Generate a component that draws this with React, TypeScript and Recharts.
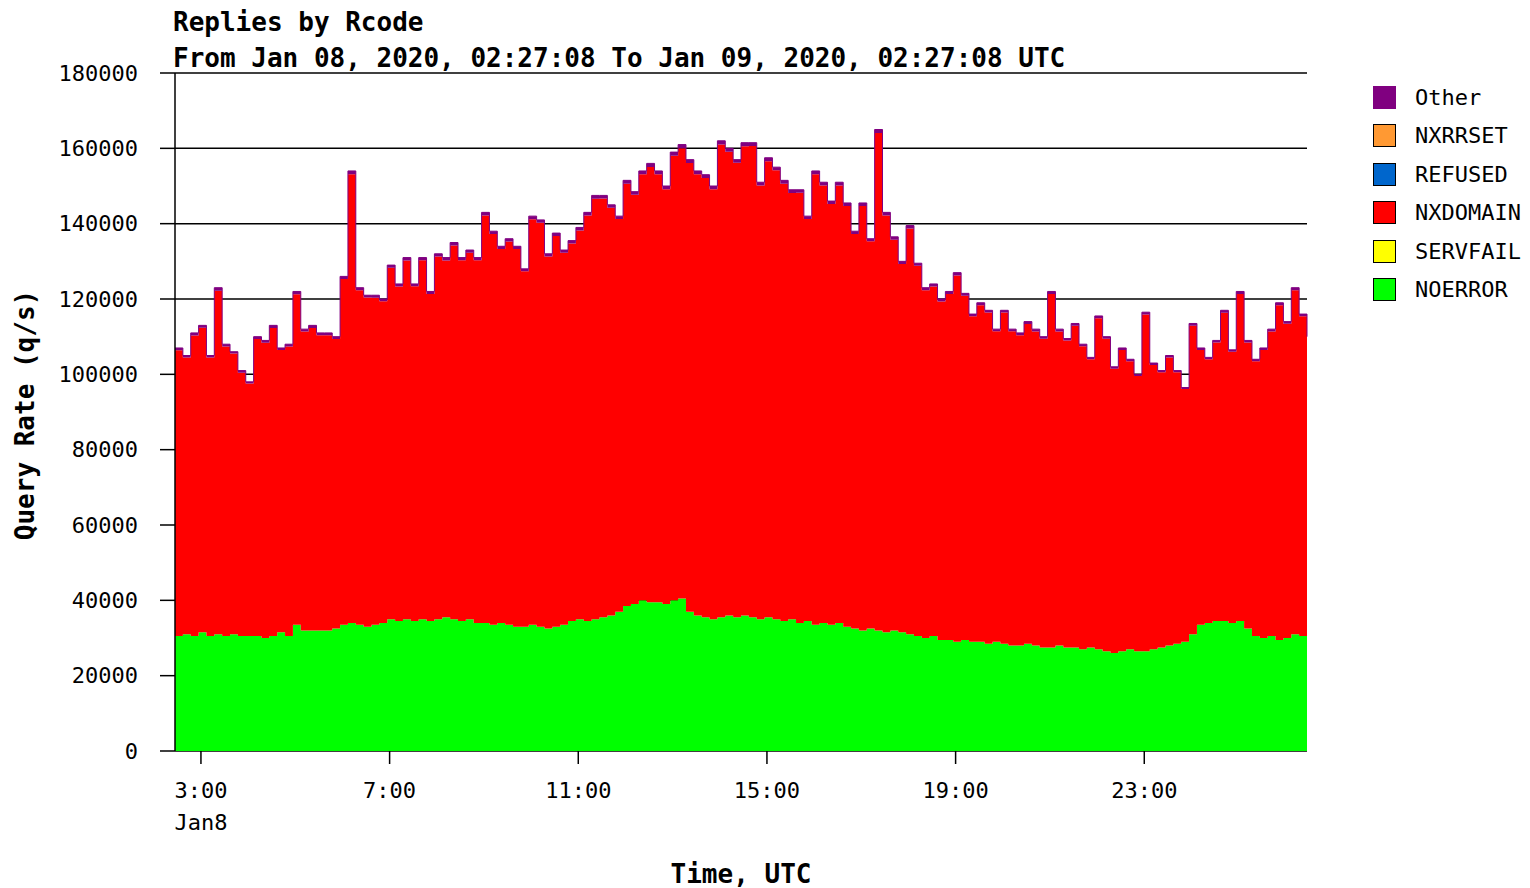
import { AreaChart, Area, XAxis, YAxis, CartesianGrid } from 'recharts'

// samples every 10 minutes starting Jan 08 02:27:08 UTC
const stepMinutes = 10

// top of the stack (all rcodes), thousands of q/s
const totalRate = [
  107, 105, 111, 113, 105, 123, 108, 106, 101, 98,
  110, 109, 113, 107, 108, 122, 112, 113, 111, 111,
  110, 126, 154, 123, 121, 121, 120, 129, 124, 131,
  124, 131, 122, 132, 131, 135, 131, 133, 131, 143,
  138, 134, 136, 134, 128, 142, 141, 132, 137.5, 133,
  135.5, 139, 143, 147.5, 147.5, 145, 142, 151.5, 148.5, 154,
  156, 154, 150, 159, 161, 157, 154, 153, 150, 162,
  160, 157, 161.5, 161.5, 151, 157.5, 155, 151.5, 149, 149,
  142, 154, 151, 146, 151, 145.5, 138, 145.5, 136, 165,
  143, 136.5, 130, 139.5, 129.5, 123, 124, 120, 122, 127,
  121.5, 116, 119, 117, 112, 117, 112, 111, 114, 112,
  110, 122, 112, 109.5, 113.5, 108, 104.5, 115.5, 110, 102,
  107, 104, 100, 116.5, 103, 101, 105, 101, 96.5, 113.5,
  107, 104.5, 109, 117, 106.5, 122, 109, 104, 107, 112,
  119, 114, 123, 116, 110,
]

// NOERROR, thousands of q/s
const noerrorRate = [
  30.5, 31, 30.5, 31.5, 30.5, 31, 30.5, 31, 30.5, 30.5,
  30.5, 30, 30.5, 31.5, 30.5, 33.5, 32, 32, 32, 32,
  32.5, 33.5, 34, 33.5, 33, 33.5, 34, 35, 34.5, 35,
  34.5, 35, 34.5, 35, 35.5, 35, 34.5, 35, 34, 34,
  33.5, 34, 33.5, 33, 33, 33.5, 33, 32.5, 33, 33.5,
  34.5, 35, 34.5, 35, 35.5, 36, 37, 38.5, 39, 40,
  39.5, 39.5, 39, 40, 40.5, 37, 36, 35.5, 35, 35.5,
  36, 35.5, 36, 35.5, 35, 35.5, 35, 34.5, 35, 34,
  34.5, 33.5, 34, 33.5, 34, 33, 32.5, 32, 32.5, 32,
  31.5, 32, 31.5, 31, 30.5, 30, 30.5, 29.5, 29.5, 29,
  29.5, 29, 29, 28.5, 29, 28.5, 28, 28, 28.5, 28,
  27.5, 27.5, 28, 27.5, 27.5, 27, 27.5, 27, 26.5, 26,
  26.5, 27, 26.5, 26.5, 27, 27.5, 28, 28.5, 29, 31,
  33.5, 34, 34.5, 34.5, 34, 34.5, 32.5, 30.5, 30, 30.5,
  29.5, 30, 31, 30.5, 30.5,
]

// Other, q/s
const otherRate = [
  600, 500, 700, 650, 550, 800, 600, 500, 550, 450,
  650, 600, 700, 550, 600, 750, 650, 700, 600, 650,
  600, 700, 900, 650, 600, 650, 600, 700, 650, 750,
  600, 700, 650, 700, 750, 800, 700, 750, 700, 800,
  750, 700, 750, 700, 650, 800, 750, 700, 800, 700,
  750, 800, 850, 900, 850, 800, 750, 900, 850, 900,
  950, 900, 850, 950, 1000, 900, 850, 900, 850, 950,
  900, 850, 950, 900, 850, 900, 850, 900, 850, 800,
  750, 900, 850, 800, 850, 800, 750, 800, 700, 950,
  800, 750, 700, 800, 700, 650, 700, 650, 700, 750,
  650, 600, 650, 600, 550, 600, 550, 600, 650, 600,
  550, 700, 600, 550, 600, 550, 500, 600, 550, 500,
  550, 500, 450, 600, 500, 450, 500, 450, 400, 600,
  550, 500, 550, 650, 500, 700, 550, 500, 550, 600,
  650, 600, 700, 600, 550,
]

// minutes after 02:27 for 3:00, 7:00, 11:00, 15:00, 19:00, 23:00
const xTicks = [33, 273, 513, 753, 993, 1233]
const yTicks = [0, 20000, 40000, 60000, 80000, 100000, 120000, 140000, 160000, 180000]

const legendItems = [
  { name: 'Other', color: '#800080', border: '#800080' },
  { name: 'NXRRSET', color: '#ff9933', border: '#000' },
  { name: 'REFUSED', color: '#0066cc', border: '#000' },
  { name: 'NXDOMAIN', color: '#ff0000', border: '#000' },
  { name: 'SERVFAIL', color: '#ffff00', border: '#000' },
  { name: 'NOERROR', color: '#00ff00', border: '#000' },
]

const data = totalRate.map((total, i) => ({
  t: i * stepMinutes,
  noerror: noerrorRate[i] * 1000,
  nxdomain: total * 1000 - noerrorRate[i] * 1000 - otherRate[i],
  other: otherRate[i],
}))

const mono = '"DejaVu Sans Mono", "Liberation Mono", monospace'

function TimeTick({ x, y, payload }: any) {
  const hour = Math.floor((147 + payload.value) / 60) % 24
  return (
    <g>
      <text x={x} y={y} dy={14} textAnchor="middle" fontFamily={mono} fontSize={22} fill="#000">
        {`${hour}:00`}
      </text>
      {payload.value === xTicks[0] && (
        <text x={x} y={y} dy={46} textAnchor="middle" fontFamily={mono} fontSize={22} fill="#000">
          Jan8
        </text>
      )}
    </g>
  )
}

function RcodeLegend() {
  return (
    <div style={{ position: 'absolute', left: 1373, top: 78, fontFamily: mono, fontSize: 22 }}>
      {legendItems.map((item) => (
        <div key={item.name} style={{ display: 'flex', alignItems: 'center', height: 38.5 }}>
          <div
            style={{
              width: 21,
              height: 21,
              background: item.color,
              border: `1.5px solid ${item.border}`,
              marginRight: 19,
            }}
          />
          <span>{item.name}</span>
        </div>
      ))}
    </div>
  )
}

export default function App() {
  return (
    <div style={{ position: 'absolute', left: 0, top: 0, width: 1530, height: 888, background: '#fff' }}>
      <div style={{ position: 'absolute', left: 173, top: 4, fontFamily: mono, fontWeight: 'bold', fontSize: 26, lineHeight: '36px' }}>
        <div>Replies by Rcode</div>
        <div>From Jan 08, 2020, 02:27:08 To Jan 09, 2020, 02:27:08 UTC</div>
      </div>
      <div
        style={{
          position: 'absolute',
          left: 25,
          top: 415,
          transform: 'translate(-50%, -50%) rotate(-90deg)',
          fontFamily: mono,
          fontWeight: 'bold',
          fontSize: 26,
          whiteSpace: 'nowrap',
        }}
      >
        Query Rate (q/s)
      </div>
      <div
        style={{
          position: 'absolute',
          left: 741,
          top: 874,
          transform: 'translate(-50%, -50%)',
          fontFamily: mono,
          fontWeight: 'bold',
          fontSize: 26,
          whiteSpace: 'nowrap',
        }}
      >
        Time, UTC
      </div>
      <RcodeLegend />
      <AreaChart
        width={1530}
        height={888}
        data={data}
        margin={{ top: 73, right: 223, bottom: 0, left: 0 }}
      >
        <CartesianGrid horizontal vertical={false} stroke="#000" strokeWidth={1.5} />
        <XAxis
          type="number"
          dataKey="t"
          domain={[0, 1440]}
          ticks={xTicks}
          height={137}
          tickSize={13}
          tickMargin={20}
          tick={<TimeTick />}
          tickLine={{ stroke: '#000', strokeWidth: 1.5 }}
          axisLine={false}
        />
        <YAxis
          type="number"
          domain={[0, 180000]}
          ticks={yTicks}
          width={175}
          tickSize={15}
          tickMargin={22}
          tick={{ fontFamily: mono, fontSize: 22, fill: '#000' }}
          tickLine={{ stroke: '#000', strokeWidth: 1.5 }}
          axisLine={{ stroke: '#000', strokeWidth: 1.5 }}
          interval={0}
        />
        <Area
          type="stepAfter"
          dataKey="noerror"
          stackId="rc"
          fill="#00ff00"
          fillOpacity={1}
          stroke="none"
          isAnimationActive={false}
        />
        <Area
          type="stepAfter"
          dataKey="nxdomain"
          stackId="rc"
          fill="#ff0000"
          fillOpacity={1}
          stroke="none"
          isAnimationActive={false}
        />
        <Area
          type="stepAfter"
          dataKey="other"
          stackId="rc"
          fill="#800080"
          fillOpacity={1}
          stroke="#800080"
          strokeWidth={1}
          isAnimationActive={false}
        />
      </AreaChart>
    </div>
  )
}
